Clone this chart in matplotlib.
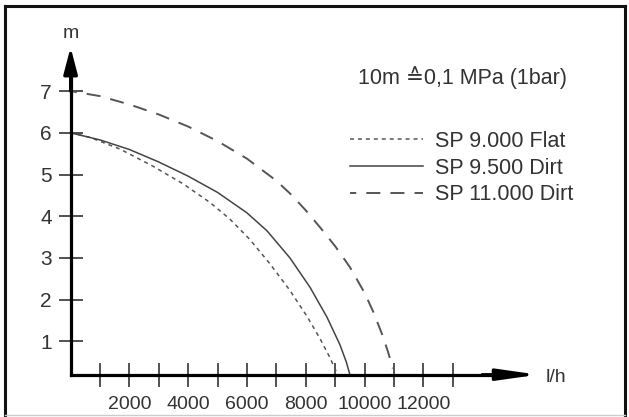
import matplotlib
matplotlib.use('Agg')
import matplotlib.pyplot as plt
from matplotlib.lines import Line2D

plt.rcParams['font.family'] = ['Liberation Sans', 'DejaVu Sans']

# pump curves: flow (l/h) -> head (m)
flow_9000 = [0, 660, 1680, 2800, 3820, 4740, 5420, 6100, 6780, 7460, 8040, 8480, 8820, 9080]
head_9000 = [6.0, 5.89, 5.61, 5.20, 4.78, 4.33, 3.93, 3.44, 2.86, 2.22, 1.60, 1.07, 0.61, 0.2]

flow_9500 = [0, 1000, 2000, 3000, 4000, 5000, 6000, 6680, 7460, 8140, 8720, 9160, 9380, 9500]
head_9500 = [6.0, 5.83, 5.60, 5.30, 4.96, 4.57, 4.08, 3.65, 3.00, 2.30, 1.58, 0.92, 0.50, 0.2]

flow_11000 = [0, 1000, 2000, 3000, 4000, 5000, 6000, 7000, 7500, 8000, 8500, 9000, 9500,
              10000, 10300, 10600, 10800, 10960]
head_11000 = [7.0, 6.88, 6.68, 6.44, 6.15, 5.80, 5.38, 4.85, 4.52, 4.14, 3.72, 3.28, 2.78,
              2.16, 1.70, 1.16, 0.74, 0.35]

labels = ['SP 9.000 Flat', 'SP 9.500 Dirt', 'SP 11.000 Dirt']

x_ticks = list(range(1000, 14000, 1000))
x_ticklabels = [str(v) if v % 2000 == 0 else '' for v in x_ticks]
y_ticks = [1, 2, 3, 4, 5, 6, 7]

W, H = 629, 417
fig = plt.figure(figsize=(W / 100, H / 100), dpi=100)
ax = fig.add_axes([0, 0, 1, 1])
ax.set_xlim(-2401, 18993)
ax.set_ylim(-0.815, 9.185)

txt = '#333333'
ax.plot(flow_9000, head_9000, color='#555555', lw=1.1, ls=(0, (2.6, 2.6)), label=labels[0])
ax.plot(flow_9500, head_9500, color='#444444', lw=1.1, label=labels[1])
ax.plot(flow_11000, head_11000, color='#555555', lw=1.4, ls=(4, (7.2, 5.2)), label=labels[2])

# axes through the origin with arrow heads
for s in ['top', 'right']:
    ax.spines[s].set_visible(False)
ax.spines['left'].set_position(('data', 0))
ax.spines['bottom'].set_position(('data', 0.2))
ax.spines['left'].set_bounds(0.2, 7.6)
ax.spines['bottom'].set_bounds(0, 15000)
for s in ['left', 'bottom']:
    ax.spines[s].set_linewidth(2.3)
    ax.spines[s].set_color('black')
ax.annotate('', xy=(0, 8.05), xytext=(0, 7.0),
            arrowprops=dict(arrowstyle='-|>,head_length=1.6,head_width=0.42',
                            color='black', lw=2.3, shrinkA=0, shrinkB=0))
ax.annotate('', xy=(15900, 0.2), xytext=(14000, 0.2),
            arrowprops=dict(arrowstyle='-|>,head_length=2.4,head_width=0.34',
                            color='black', lw=2.3, shrinkA=0, shrinkB=0))

ax.set_xticks(x_ticks)
ax.set_xticklabels(x_ticklabels)
ax.set_yticks(y_ticks)
ax.set_yticklabels([str(v) for v in y_ticks])
ax.tick_params(axis='both', direction='inout', length=17, width=1.1, color='#222222',
               labelcolor=txt)
ax.tick_params(axis='x', labelsize=14, pad=7)
ax.tick_params(axis='y', labelsize=15, pad=5)

ax.text(0, 8.38, 'm', ha='center', va='center', fontsize=14, color=txt)
ax.text(16500, 0.13, 'l/h', ha='center', va='center', fontsize=14, color=txt)

fig.text(463 / W, 1 - 78 / H, '10m \u22590,1 MPa (1bar)', ha='center', va='center',
         fontsize=15.5, color=txt)

ax.legend(loc='upper left', bbox_to_anchor=(350 / W, 1 - 131 / H), bbox_transform=fig.transFigure,
          frameon=False, fontsize=15.5, handlelength=3.4, handletextpad=0.55,
          labelspacing=0.26, borderpad=0, borderaxespad=0, labelcolor=txt)

# outer frame
fig.add_artist(Line2D([5 / W, 5 / W], [2 / H, 1 - 6 / H], transform=fig.transFigure, color='#111111', lw=2.2))
fig.add_artist(Line2D([5 / W, 625 / W], [1 - 6 / H, 1 - 6 / H], transform=fig.transFigure, color='#111111', lw=2.2))
fig.add_artist(Line2D([625 / W, 625 / W], [2 / H, 1 - 6 / H], transform=fig.transFigure, color='#111111', lw=2.2))
fig.add_artist(Line2D([5 / W, 625 / W], [2 / H, 2 / H], transform=fig.transFigure, color='#cccccc', lw=1))

fig.savefig('out.png', dpi=100)
